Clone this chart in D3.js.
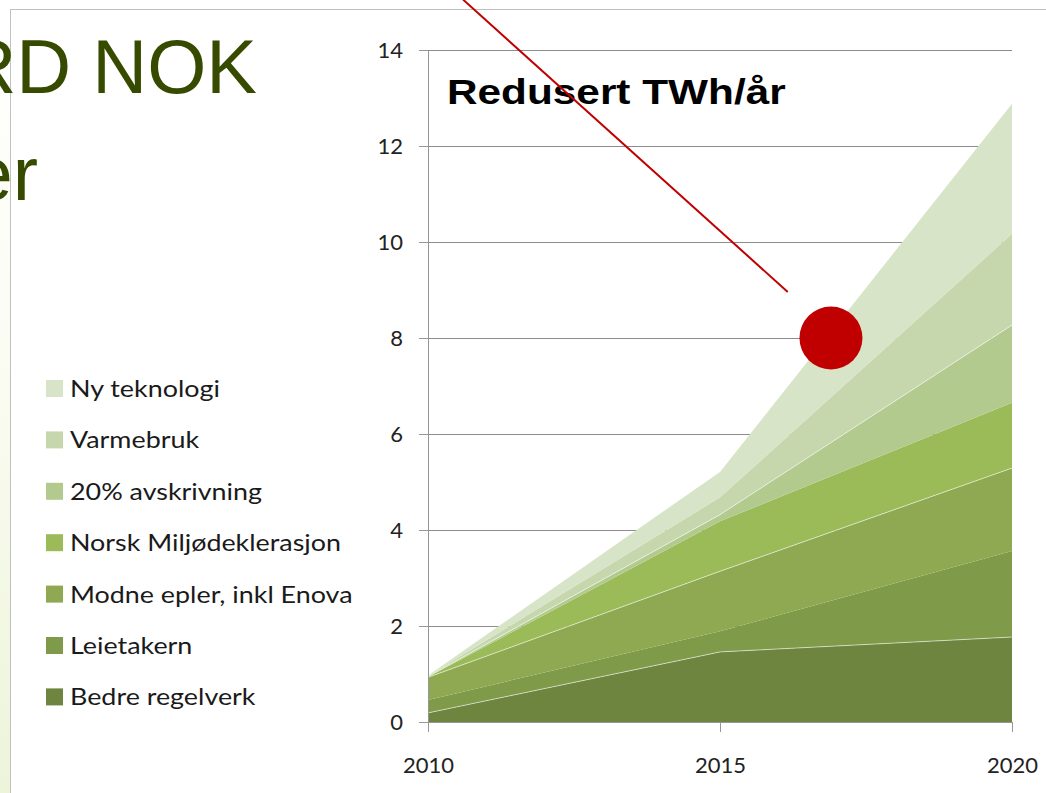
<!DOCTYPE html>
<html>
<head>
<meta charset="utf-8">
<title>Redusert TWh/år</title>
<script src="https://cdn.jsdelivr.net/npm/d3@7"></script>
<style>
  body { margin: 0; background: #fff; }
  svg { display: block; }
</style>
</head>
<body>
<svg id="chart" width="1046" height="793"></svg>
<script>
  /* data (TWh/år per tiltak) */
  const years = [2010, 2015, 2020];
  const bedreRegelverk = [0.19, 1.46, 1.77];
  const leietakern = [0.27, 0.43, 1.79];
  const modneEpler = [0.47, 1.25, 1.73];
  const norskMiljo = [0.01, 1.04, 1.36];
  const avskrivning = [0.01, 0.14, 1.62];
  const varmebruk = [0.01, 0.36, 1.90];
  const nyTeknologi = [0.01, 0.53, 2.71];

  // bottom to top
  const seriesNames = ['Bedre regelverk', 'Leietakern', 'Modne epler, inkl Enova',
    'Norsk Miljødeklerasjon', '20% avskrivning', 'Varmebruk', 'Ny teknologi'];
  const seriesValues = [bedreRegelverk, leietakern, modneEpler, norskMiljo,
    avskrivning, varmebruk, nyTeknologi];
  const seriesColors = ['#6d853f', '#7f9a48', '#8ea951', '#9bbb59',
    '#b3ca8e', '#c6d7ad', '#d8e4c7'];
  const yTicks = [0, 2, 4, 6, 8, 10, 12, 14];

  // the red marker and its pointer line, in chart units
  const markerPoint = [2016.9, 8];
  const pointerLine = [[2010.6, 15.05], [2016.16, 8.96]];

  const svg = d3.select('#chart');

  const x = d3.scaleLinear().domain([2010, 2020]).range([428, 1012]);
  const y = d3.scaleLinear().domain([0, 14]).range([722, 50]);

  /* slide background bits */
  const defs = svg.append('defs');
  const grad = defs.append('linearGradient')
    .attr('id', 'strip').attr('x1', 0).attr('y1', 0).attr('x2', 0).attr('y2', 1);
  grad.append('stop').attr('offset', '0%').attr('stop-color', '#ffffff');
  grad.append('stop').attr('offset', '45%').attr('stop-color', '#fbfcf2');
  grad.append('stop').attr('offset', '100%').attr('stop-color', '#edf4da');

  svg.append('rect')
    .attr('x', 0).attr('y', 9).attr('width', 10).attr('height', 784)
    .attr('fill', 'url(#strip)');

  svg.append('line')
    .attr('x1', 10).attr('y1', 9.5).attr('x2', 1046).attr('y2', 9.5)
    .attr('stroke', '#c0c0c0');
  svg.append('line')
    .attr('x1', 10.5).attr('y1', 9).attr('x2', 10.5).attr('y2', 793)
    .attr('stroke', '#c0c0c0');

  // slide heading, running off the left edge as in the original slide
  svg.append('text')
    .attr('x', 257).attr('y', 93)
    .attr('text-anchor', 'end')
    .attr('font-family', 'Liberation Sans, Arial, sans-serif')
    .attr('font-size', 76)
    .attr('fill', '#374b00')
    .text('RD NOK');

  svg.append('text')
    .attr('x', 38).attr('y', 200)
    .attr('text-anchor', 'end')
    .attr('font-family', 'Liberation Sans, Arial, sans-serif')
    .attr('font-size', 76)
    .attr('fill', '#374b00')
    .text('er');

  /* gridlines */
  svg.append('g')
    .selectAll('line')
    .data(yTicks.filter(d => d > 0))
    .join('line')
    .attr('x1', x(2010)).attr('x2', x(2020))
    .attr('y1', d => Math.round(y(d)) + 0.5)
    .attr('y2', d => Math.round(y(d)) + 0.5)
    .attr('stroke', '#8c8c8c');

  /* stacked areas */
  const table = years.map((yr, i) => {
    const row = { year: yr };
    seriesNames.forEach((name, k) => { row[name] = seriesValues[k][i]; });
    return row;
  });

  const stacked = d3.stack().keys(seriesNames)(table);

  const area = d3.area()
    .x(d => x(d.data.year))
    .y0(d => y(d[0]))
    .y1(d => y(d[1]));

  svg.append('g')
    .selectAll('path')
    .data(stacked)
    .join('path')
    .attr('d', area)
    .attr('fill', (d, i) => seriesColors[i]);

  // thin pale seams that show between some of the layers
  const seam = d3.line()
    .x(d => x(d.data.year))
    .y(d => y(d[1]));

  svg.append('g')
    .selectAll('path')
    .data(stacked.filter((d, i) => i === 0 || i === 2 || i === 4))
    .join('path')
    .attr('d', seam)
    .attr('fill', 'none')
    .attr('stroke', '#ffffff')
    .attr('stroke-opacity', 0.55)
    .attr('stroke-width', 1);

  /* axes */
  const yAxis = d3.axisLeft(y)
    .tickValues(yTicks)
    .tickSize(9)
    .tickPadding(16)
    .tickFormat(d3.format('d'));

  const gy = svg.append('g')
    .attr('transform', `translate(${x(2010)},0)`)
    .call(yAxis);

  const xAxis = d3.axisBottom(x)
    .tickValues(years)
    .tickSize(10)
    .tickPadding(25)
    .tickFormat(d3.format('d'));

  const gx = svg.append('g')
    .attr('transform', `translate(0,${y(0)})`)
    .call(xAxis);

  [gx, gy].forEach(g => {
    g.select('.domain').attr('stroke', '#969696');
    g.selectAll('.tick line').attr('stroke', '#969696');
    g.selectAll('.tick text')
      .attr('font-family', 'Lato, sans-serif')
      .attr('font-size', 22)
      .attr('fill', '#222');
  });

  /* chart title */
  svg.append('text')
    .attr('transform', 'translate(447,104) scale(1.21,1)')
    .attr('font-family', 'Liberation Sans, Arial, sans-serif')
    .attr('font-weight', 'bold')
    .attr('font-size', 35)
    .attr('fill', '#000')
    .text('Redusert TWh/år');

  /* legend, top entry first */
  const legendItems = seriesNames.map((n, i) => ({ name: n, color: seriesColors[i] })).reverse();

  const legend = svg.append('g')
    .selectAll('g')
    .data(legendItems)
    .join('g')
    .attr('transform', (d, i) => `translate(46,${380 + i * 51.4})`);

  legend.append('rect')
    .attr('width', 17).attr('height', 17)
    .attr('fill', d => d.color);

  legend.append('text')
    .attr('transform', 'translate(24,17) scale(1.12,1)')
    .attr('font-family', 'Lato, sans-serif')
    .attr('font-size', 24)
    .attr('fill', '#1a1a1a')
    .text(d => d.name);

  /* red annotation */
  svg.append('line')
    .attr('x1', x(pointerLine[0][0])).attr('y1', y(pointerLine[0][1]))
    .attr('x2', x(pointerLine[1][0])).attr('y2', y(pointerLine[1][1]))
    .attr('stroke', '#c00000')
    .attr('stroke-width', 2);

  svg.append('circle')
    .attr('cx', x(markerPoint[0]))
    .attr('cy', y(markerPoint[1]))
    .attr('r', 31.5)
    .attr('fill', '#c00000');
</script>
</body>
</html>
